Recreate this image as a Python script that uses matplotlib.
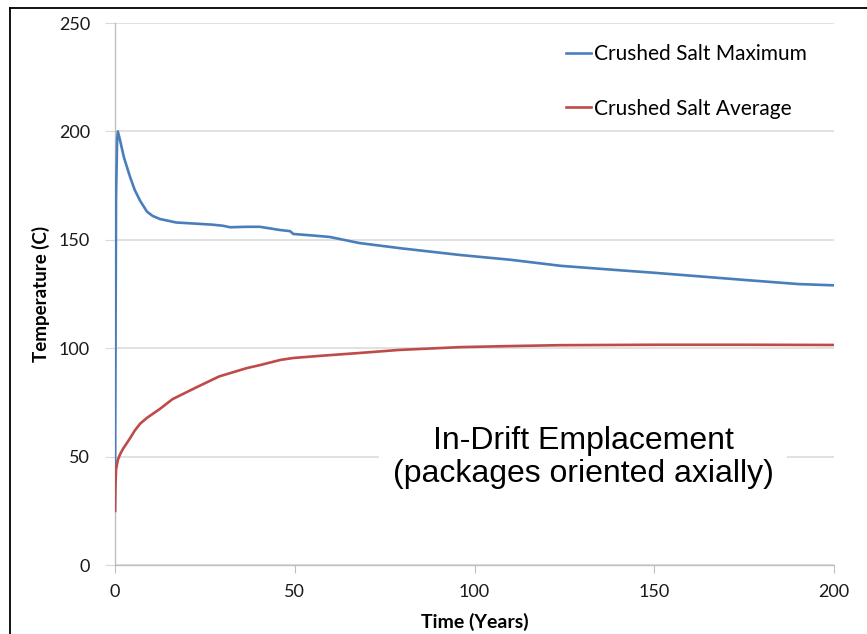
import matplotlib.pyplot as plt
from matplotlib.lines import Line2D

# Crushed salt temperatures, in-drift emplacement
t_max = [0, 0.3, 0.6, 0.8, 1.4, 2.5, 4.2, 5.5, 7, 8.9, 10.5, 12.5, 17, 22, 27,
         30, 32, 36.6, 40.3, 46, 48.7, 49.6, 55, 59.8, 68, 80, 96, 110, 124,
         140, 150, 175, 190, 200]
temp_max = [25, 170, 196, 200, 196, 188, 179, 173, 168, 163, 161, 159.6, 158,
            157.5, 157, 156.5, 155.8, 156, 156, 154.5, 154, 152.7, 152, 151.3,
            148.5, 146, 143, 140.8, 138, 136, 134.8, 131.5, 129.6, 129]

t_avg = [0, 0.1, 0.3, 0.8, 1.4, 2.2, 3.2, 4.2, 5.5, 7, 9, 12.5, 16, 22.7, 29,
         36.6, 40.3, 46, 49.6, 58, 68, 79, 96, 110, 124, 150, 175, 200]
temp_avg = [25, 35, 44, 48.5, 51, 53.5, 56, 58.5, 62, 65.2, 68, 72, 76.5, 82,
            87, 90.8, 92.2, 94.6, 95.5, 96.6, 97.8, 99.2, 100.5, 101, 101.4,
            101.6, 101.6, 101.5]

y_ticks = [0, 50, 100, 150, 200, 250]
x_ticks = [0, 50, 100, 150, 200]

tick_font = "Lato"
grid_color = "#d9d9d9"

fig = plt.figure(figsize=(8.67, 6.34), dpi=100)
ax = fig.add_axes([0.1326, 0.1088, 0.962 - 0.1326, 0.9637 - 0.1088])

ax.plot(t_max, temp_max, color="#4a7ebb", lw=1.9, zorder=3)
ax.plot(t_avg, temp_avg, color="#be4b48", lw=1.9, zorder=4)

ax.set_xlim(0, 200)
ax.set_ylim(0, 250)
ax.set_xticks(x_ticks)
ax.set_yticks(y_ticks)
ax.yaxis.grid(True, color=grid_color, lw=1.1)
ax.set_axisbelow(True)

for side in ("top", "right"):
    ax.spines[side].set_visible(False)
for side in ("left", "bottom"):
    ax.spines[side].set_color("#bfbfbf")
    ax.spines[side].set_linewidth(1.0)

ax.tick_params(axis="y", length=7, color=grid_color, pad=11, labelsize=13,
               labelcolor="#1a1a1a")
ax.tick_params(axis="x", length=6, color="#bfbfbf", pad=8, labelsize=13,
               labelcolor="#1a1a1a")
for lab in ax.get_xticklabels() + ax.get_yticklabels():
    lab.set_fontfamily(tick_font)

ax.set_xlabel("Time (Years)", fontfamily=tick_font, fontweight="bold",
              fontsize=14, labelpad=9)
ax.set_ylabel("Temperature (C)", fontfamily=tick_font, fontweight="bold",
              fontsize=13.5, labelpad=6)

handles = [Line2D([], [], color="#4a7ebb", lw=1.9),
           Line2D([], [], color="#be4b48", lw=1.9)]
ax.legend(handles, ["Crushed Salt Maximum", "Crushed Salt Average"],
          loc="upper left", bbox_to_anchor=(0.6156, 0.976), frameon=False,
          prop={"family": tick_font, "size": 15}, handlelength=1.2,
          handletextpad=0.15, labelspacing=1.64, borderaxespad=0)

ax.text(0.651, 0.198, "In-Drift Emplacement\n(packages oriented axially)",
        transform=ax.transAxes, ha="center", va="center",
        fontfamily="Liberation Sans", fontsize=23, linespacing=1.12,
        bbox=dict(facecolor="white", edgecolor="none", pad=10), zorder=5)

# frame lines along the top and left edge of the figure
fig.add_artist(Line2D([10 / 867, 1], [1 - 8 / 634, 1 - 8 / 634],
                      transform=fig.transFigure, color="black", lw=1.3))
fig.add_artist(Line2D([10 / 867, 10 / 867], [0, 1 - 8 / 634],
                      transform=fig.transFigure, color="black", lw=1.3))

fig.savefig("out.png", dpi=100)
